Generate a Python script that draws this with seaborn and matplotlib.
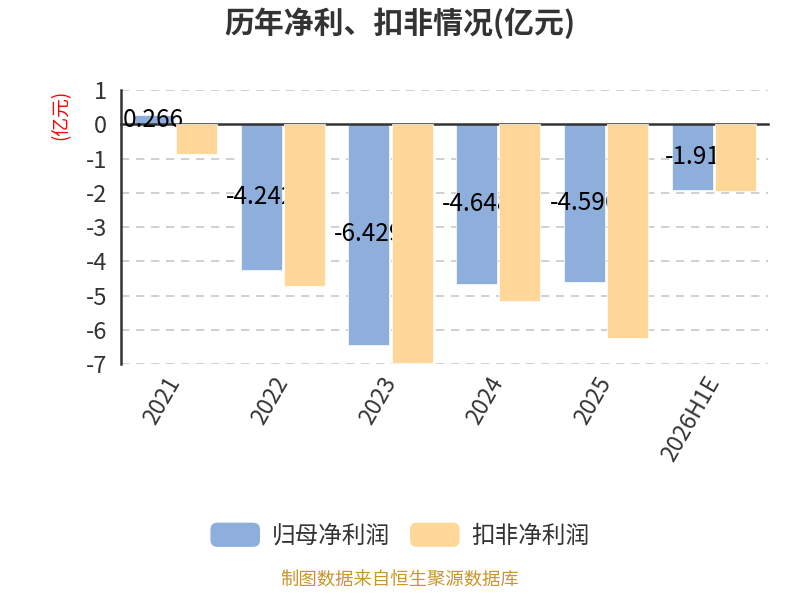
import matplotlib
matplotlib.use("Agg")
import matplotlib.pyplot as plt
import pandas as pd
import seaborn as sns
from matplotlib.legend_handler import HandlerPatch
from matplotlib.patches import FancyBboxPatch

years = ["2021", "2022", "2023", "2024", "2025", "2026H1E"]
parent_profit = [0.266, -4.242, -6.429, -4.648, -4.596, -1.91]
deducted_profit = [-0.88, -4.72, -6.96, -5.16, -6.25, -1.95]
series_names = ["归母净利润", "扣非净利润"]
colors = ["#8eaedb", "#ffd899"]

df = pd.DataFrame({
    "year": years * 2,
    "value": parent_profit + deducted_profit,
    "series": [series_names[0]] * len(years) + [series_names[1]] * len(years),
})

sns.set_style("white")
plt.rcParams["font.family"] = ["Noto Sans CJK SC", "DejaVu Sans"]


class RoundedHandler(HandlerPatch):
    def create_artists(self, legend, orig_handle, xdescent, ydescent,
                       width, height, fontsize, trans):
        p = FancyBboxPatch((-xdescent, -ydescent), width, height,
                           boxstyle="round,pad=0,rounding_size=5",
                           facecolor=orig_handle.get_facecolor(),
                           edgecolor="none", transform=trans)
        return [p]


fig = plt.figure(figsize=(8, 6), dpi=100)
ax = fig.add_axes([0.151, 0.393, 0.809, 0.457])

sns.barplot(data=df, x="year", y="value", hue="series", palette=colors,
            width=0.8, gap=0.05, saturation=1, ax=ax, legend=True,
            edgecolor="white", linewidth=0.5)

ax.set_ylim(-7, 1)
ax.set_xlim(-0.5, len(years) - 0.5)
ax.set_yticks(range(-7, 2))
ax.set_yticklabels([str(v) for v in range(-7, 2)])
ax.tick_params(axis="y", labelsize=17, colors="#333333", length=6, width=1.5,
               direction="out", pad=4)

for v in range(-7, 2):
    if v != 0:
        ax.axhline(v, color="#c8c8c8", lw=1.2, ls=(0, (5, 4)), zorder=0)

# zero line with tick marks at category boundaries
ax.spines["bottom"].set_position(("data", 0))
ax.spines["bottom"].set_color("#333333")
ax.spines["bottom"].set_linewidth(1.8)
ax.spines["left"].set_color("#333333")
ax.spines["left"].set_linewidth(1.8)
ax.spines["top"].set_visible(False)
ax.spines["right"].set_visible(False)
ax.set_xticks([i - 0.5 for i in range(len(years) + 1)])
ax.set_xticklabels([""] * (len(years) + 1))
ax.tick_params(axis="x", which="major", length=6, width=1.5, colors="#333333",
               direction="out")
ax.set_xticks(range(len(years)), labels=years, minor=True)
ax.tick_params(axis="x", which="minor", length=0, pad=183, labelsize=16.5,
               labelcolor="#333333")
for t in ax.get_xticklabels(minor=True):
    t.set_rotation(60)
    t.set_ha("right")
    t.set_va("center")
    t.set_rotation_mode("anchor")

ax.set_xlabel("")
ax.set_ylabel("(亿元)", color="red", fontsize=13.5)
ax.yaxis.set_label_coords(-0.077, 0.908)

# labels on the parent-profit bars, partly hidden by the second series
blue_bars, orange_bars = ax.containers[0], ax.containers[1]
labels = ax.bar_label(blue_bars, labels=[f"{v:g}" for v in parent_profit],
                      label_type="center", fontsize=17.5, color="black")
for lab in labels:
    lab.set_zorder(3)
for bar in blue_bars:
    bar.set_zorder(2)
for bar in orange_bars:
    bar.set_zorder(4)

handles, leg_labels = ax.get_legend_handles_labels()
ax.legend_.remove()
fig.legend(handles, leg_labels, loc="center", bbox_to_anchor=(0.5, 0.108),
           ncol=2, frameon=False, fontsize=17, handlelength=2.1,
           handleheight=1.2, handletextpad=0.5, columnspacing=0.85,
           labelcolor="#333333",
           handler_map={h: RoundedHandler() for h in handles})

fig.text(0.5, 0.962, "历年净利、扣非情况(亿元)", ha="center", va="center",
         fontsize=21.5, fontweight="bold", color="#333333")
fig.text(0.5, 0.018, "制图数据来自恒生聚源数据库", ha="center", va="bottom",
         fontsize=13.2, color="#c8962a")

fig.savefig("out.png", dpi=100)
